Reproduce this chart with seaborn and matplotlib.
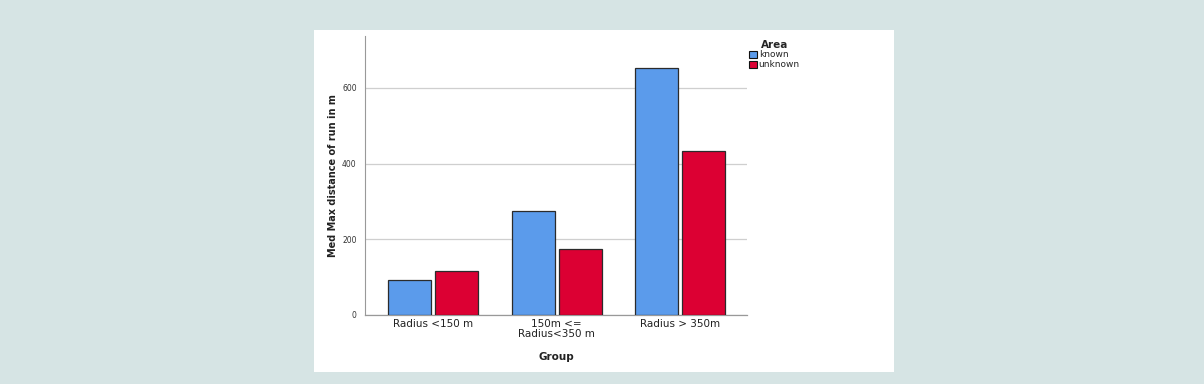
import pandas as pd
import matplotlib
matplotlib.use("Agg")
import matplotlib.pyplot as plt
import seaborn as sns
from matplotlib.patches import Rectangle

# Data
groups = ["Radius <150 m", "150m <=\nRadius<350 m", "Radius > 350m"]
known = [92, 275, 652]
unknown = [116, 174, 433]

df = pd.DataFrame({
    "Group": groups * 2,
    "Area": ["known"] * 3 + ["unknown"] * 3,
    "value": known + unknown,
})

sns.set_style("white")
plt.rcParams['font.family'] = ['DejaVu Sans']

fig = plt.figure(figsize=(12.04, 3.84), dpi=100)
fig.patch.set_facecolor("#d6e4e4")
# white panel behind the chart
fig.patches.append(Rectangle((0.2608, 0.0313), 0.4817, 0.8906, transform=fig.transFigure,
                             facecolor="white", edgecolor="none", zorder=-5))

ax = fig.add_axes([0.3032, 0.1797, 0.3173, 0.7266])
ax.set_facecolor("none")

sns.barplot(data=df, x="Group", y="value", hue="Area",
            palette={"known": "#5b9beb", "unknown": "#dc0033"}, saturation=1,
            width=0.76, gap=0.08, edgecolor="#2b2b2b", linewidth=0.9,
            ax=ax, zorder=3)

ax.set_ylim(0, 737)
ax.set_xlim(-0.55, 2.54)
ax.set_yticks([0, 200, 400, 600])
ax.yaxis.grid(True, color="#cfcfcf", linewidth=0.9, zorder=0)
ax.set_axisbelow(True)
ax.tick_params(axis="y", labelsize=5.5, length=0, pad=6, colors="#333333")
ax.tick_params(axis="x", labelsize=7.5, length=0, pad=3, colors="#222222")
for lbl in ax.get_xticklabels():
    lbl.set_linespacing(1.0)

for side in ["top", "right"]:
    ax.spines[side].set_visible(False)
ax.spines["left"].set_color("#999999")
ax.spines["left"].set_linewidth(0.8)
ax.spines["bottom"].set_color("#999999")
ax.spines["bottom"].set_linewidth(0.9)

ax.set_ylabel("Med Max distance of run in m", fontsize=7, fontweight="bold",
              color="#222222")
ax.yaxis.set_label_coords(-0.07, 0.5)
ax.set_xlabel("Group", fontsize=7.5, fontweight="bold", color="#222222", labelpad=9)

leg = ax.legend(title="Area", loc="upper left", bbox_to_anchor=(0.995, 1.0),
                frameon=False, fontsize=6.5, title_fontsize=7.5,
                handlelength=0.9, handleheight=0.9, handletextpad=0.2,
                labelspacing=0.1, borderaxespad=0.0)
leg.get_title().set_fontweight("bold")
for h in leg.legend_handles:
    h.set_edgecolor("#111111")
    h.set_linewidth(0.8)

fig.savefig("out.png", dpi=100, facecolor=fig.get_facecolor())
